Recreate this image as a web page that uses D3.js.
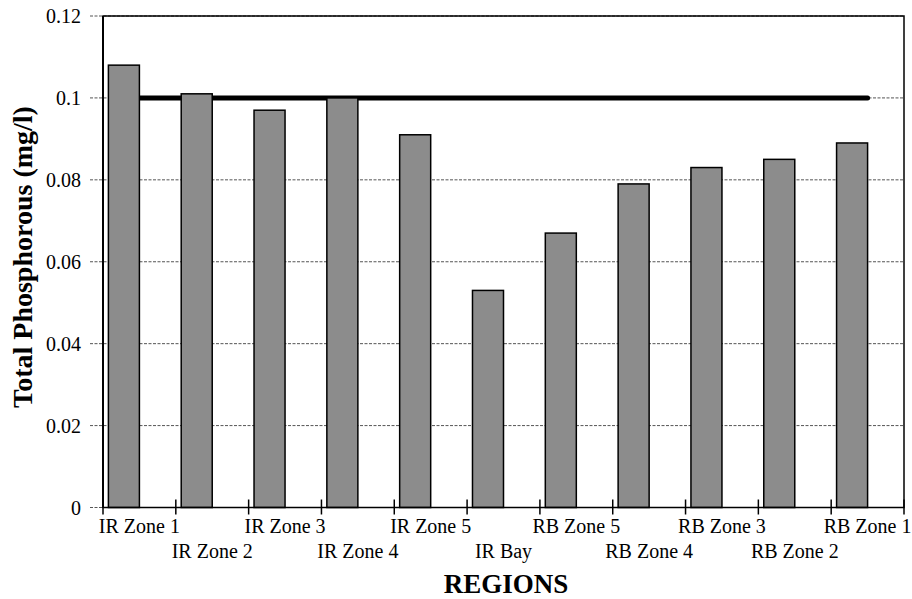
<!DOCTYPE html>
<html>
<head>
<meta charset="utf-8">
<script src="https://cdn.jsdelivr.net/npm/d3@7"></script>
<style>
  html, body { margin: 0; padding: 0; background: #fff; }
  svg { display: block; font-family: "Liberation Serif", "Times New Roman", serif; }
</style>
</head>
<body>
<svg id="chart" width="912" height="599"></svg>
<script>
const categories = ["IR Zone 1", "IR Zone 2", "IR Zone 3", "IR Zone 4", "IR Zone 5", "IR Bay",
                    "RB Zone 5", "RB Zone 4", "RB Zone 3", "RB Zone 2", "RB Zone 1"];
const phosphorus = [0.108, 0.101, 0.097, 0.100, 0.091, 0.053, 0.067, 0.079, 0.083, 0.085, 0.089];
const target = [0.1, 0.1, 0.1, 0.1, 0.1, 0.1, 0.1, 0.1, 0.1, 0.1, 0.1];
const yTicks = [0, 0.02, 0.04, 0.06, 0.08, 0.1, 0.12];
const yTickLabels = ["0", "0.02", "0.04", "0.06", "0.08", "0.1", "0.12"];

const svg = d3.select("#chart");
const mLeft = 103, mRight = 904, mTop = 16, mBottom = 507.5;

const x = d3.scaleBand().domain(categories).range([mLeft, mRight]).paddingInner(0).paddingOuter(0);
const slot = d3.scaleBand().domain([0, 1]).range([0, x.bandwidth()]).paddingInner(0).paddingOuter(0.174);
const y = d3.scaleLinear().domain([0, 0.12]).range([mBottom, mTop]);

// gridlines (with left dashed tick extensions)
svg.append("g").selectAll("line").data(yTicks).join("line")
  .attr("x1", mLeft - 13).attr("x2", mRight)
  .attr("y1", d => y(d)).attr("y2", d => y(d))
  .attr("stroke", "#555").attr("stroke-width", 1)
  .attr("stroke-dasharray", "3,1.5");

// y tick labels
svg.append("g").selectAll("text").data(yTicks).join("text")
  .attr("x", 81).attr("y", d => y(d))
  .attr("text-anchor", "end").attr("dominant-baseline", "central")
  .attr("font-size", 20).attr("fill", "#000")
  .text((d, i) => yTickLabels[i]);

// target line (behind bars)
const line = d3.line().x((d, i) => x(categories[i]) + x.bandwidth() / 2).y(d => y(d));
svg.append("path").datum(target)
  .attr("d", line).attr("fill", "none")
  .attr("stroke", "#000").attr("stroke-width", 5).attr("stroke-linecap", "round");

// bars
svg.append("g").selectAll("rect").data(phosphorus).join("rect")
  .attr("x", (d, i) => x(categories[i]) + slot(0))
  .attr("width", slot.bandwidth())
  .attr("y", d => y(d))
  .attr("height", d => y(0) - y(d))
  .attr("fill", "#8c8c8c").attr("stroke", "#000").attr("stroke-width", 1.5);

// frame
svg.append("rect")
  .attr("x", mLeft).attr("y", mTop).attr("width", mRight - mLeft).attr("height", mBottom - mTop)
  .attr("fill", "none").attr("stroke", "#000").attr("stroke-width", 1.5);
svg.append("line").attr("x1", mLeft).attr("x2", mLeft).attr("y1", mTop).attr("y2", mBottom)
  .attr("stroke", "#000").attr("stroke-width", 2);

// x axis tick marks at band boundaries
const boundaries = categories.map(c => x(c)).concat([mRight]);
svg.append("g").selectAll("line").data(boundaries).join("line")
  .attr("x1", d => d).attr("x2", d => d)
  .attr("y1", mBottom - 8).attr("y2", mBottom + 7)
  .attr("stroke", "#000").attr("stroke-width", 1.5);

// x labels, staggered
svg.append("g").selectAll("text").data(categories).join("text")
  .attr("x", d => x(d) + x.bandwidth() / 2)
  .attr("y", (d, i) => i % 2 === 0 ? 533 : 558)
  .attr("text-anchor", "middle")
  .attr("font-size", 20).attr("fill", "#000")
  .text(d => d);

// axis titles
svg.append("text")
  .attr("transform", "translate(32,257) rotate(-90)")
  .attr("text-anchor", "middle").attr("font-size", 28).attr("font-weight", "bold")
  .text("Total Phosphorous (mg/l)");

svg.append("text")
  .attr("x", 506).attr("y", 593)
  .attr("text-anchor", "middle").attr("font-size", 27).attr("font-weight", "bold")
  .text("REGIONS");
</script>
</body>
</html>
